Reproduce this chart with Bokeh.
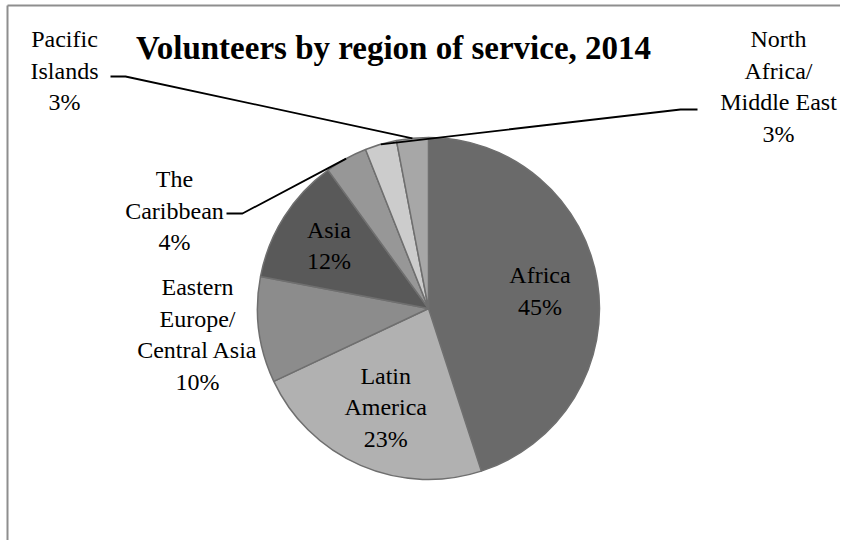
import numpy as np
from bokeh.plotting import figure
from bokeh.models import Range1d, ColumnDataSource
from bokeh.core.properties import value
from bokeh.embed import file_html
from bokeh.resources import INLINE

# ---- data ----
regions = ["Africa", "Latin America", "Eastern Europe/Central Asia", "Asia",
           "The Caribbean", "North Africa/Middle East", "Pacific Islands"]
shares = [45, 23, 10, 12, 4, 3, 3]
label_lines = [["Africa"], ["Latin", "America"], ["Eastern", "Europe/", "Central Asia"],
               ["Asia"], ["The", "Caribbean"], ["North", "Africa/", "Middle East"],
               ["Pacific", "Islands"]]
title = "Volunteers by region of service, 2014"

# ---- style / layout ----
W, H = 840, 540
colors = ["#6a6a6a", "#b1b1b1", "#8c8c8c", "#595959", "#979797", "#cccccc", "#a7a7a7"]
CX, CY, R = 428, 308, 171          # pixel layout of the pie
FONT = "Liberation Serif"
FS = 24
LH = 31.5
# placement: ("in", radius fraction) or ("out", label centre px, stub start px, stub end px)
placement = [
    ("in", 0.66),
    ("in", 0.63),
    ("out", (197, 334), None, None),
    ("in", 0.69),
    ("out", (174, 210), (226, 213), (242, 213)),
    ("out", (778, 86), (697, 109), (680, 109)),
    ("out", (64, 70), (110, 76), (125, 76)),
]

def Y(py):
    return H - py

p = figure(width=W, height=H, x_range=Range1d(0, W), y_range=Range1d(0, H),
           output_backend="svg", toolbar_location=None, min_border=0,
           x_axis_type=None, y_axis_type=None)
p.outline_line_color = None
p.xgrid.visible = False
p.ygrid.visible = False
p.background_fill_color = "white"
p.border_fill_color = "white"

# chart-area frame (left and top edges visible)
p.segment(x0=[7, 7], y0=[Y(5), Y(5)], x1=[7, W], y1=[0, Y(5)],
          line_color="#8e8e8e", line_width=2)

# pie
frac = np.array(shares, dtype=float) / sum(shares)
cum = np.concatenate([[0], np.cumsum(frac)])
start = np.pi / 2 - 2 * np.pi * cum[:-1]
end = np.pi / 2 - 2 * np.pi * cum[1:]
src = ColumnDataSource(dict(start=start, end=end, color=colors, region=regions))
p.wedge(x=CX, y=Y(CY), radius=R, start_angle="start", end_angle="end",
        direction="clock", fill_color="color", line_color="#6f6f6f",
        line_width=1.5, source=src)

# labels & leader lines
mid = 2 * np.pi * (cum[:-1] + cum[1:]) / 2   # clockwise from top
tx, ty, tt = [], [], []
for i, pl in enumerate(placement):
    lines = label_lines[i] + [f"{shares[i]}%"]
    if pl[0] == "in":
        f = pl[1]
        lx = CX + R * f * np.sin(mid[i])
        ly = CY - R * f * np.cos(mid[i])
    else:
        lx, ly = pl[1]
        if pl[2] is not None:
            ex = CX + R * np.sin(mid[i])
            ey = CY - R * np.cos(mid[i])
            xs = [pl[2][0], pl[3][0], ex]
            ys = [Y(pl[2][1]), Y(pl[3][1]), Y(ey)]
            p.line(xs, ys, line_color="black", line_width=1.8)
    n = len(lines)
    for k, s in enumerate(lines):
        tx.append(lx)
        ty.append(Y(ly + (k - (n - 1) / 2) * LH))
        tt.append(s)

p.text(x=tx, y=ty, text=tt, text_font=value(FONT), text_font_size=f"{FS}px",
       text_align="center", text_baseline="middle", text_color="black")

p.text(x=[393], y=[Y(47)], text=[title], text_font=value(FONT), text_font_size="33px",
       text_font_style="bold", text_align="center", text_baseline="middle",
       text_color="black")

open("out.html", "w").write(file_html(p, INLINE))
